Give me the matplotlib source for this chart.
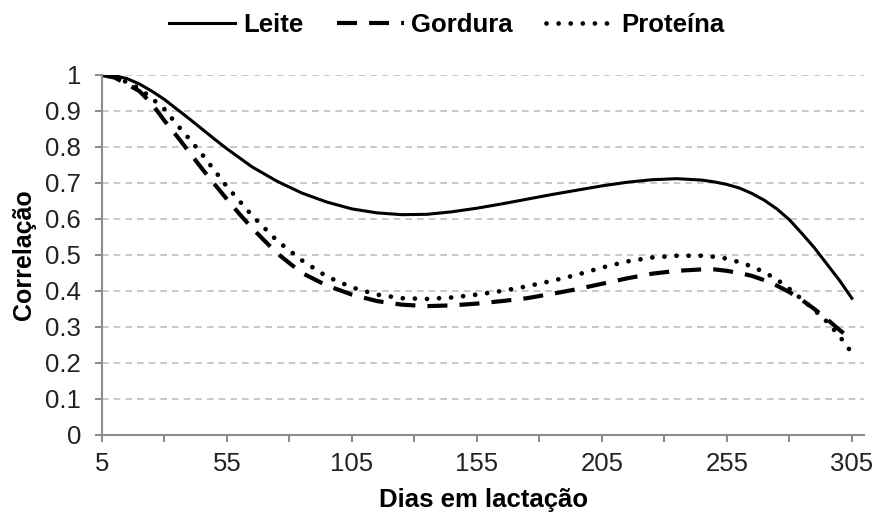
import numpy as np
import matplotlib.pyplot as plt

plt.rcParams['font.family'] = ['Liberation Sans', 'DejaVu Sans']

# dias em lactação
dias = [5, 10, 15, 20, 25, 30, 35, 40, 45, 50, 55, 60, 65,
        75, 85, 95, 105, 115, 125, 135, 145, 155, 165, 175, 185, 195, 205, 215,
        225, 235, 245,
        250, 255, 260, 265, 270, 275, 280, 285, 290, 295, 300, 305]

leite = [1.0, 0.998, 0.99, 0.975, 0.955, 0.932, 0.905, 0.878, 0.85, 0.822, 0.795, 0.77, 0.745,
         0.705, 0.672, 0.647, 0.628, 0.617, 0.612, 0.613, 0.62, 0.63, 0.642, 0.655, 0.668,
         0.68, 0.692, 0.702, 0.709, 0.712, 0.708,
         0.703, 0.696, 0.686, 0.671, 0.652, 0.628, 0.598, 0.56, 0.52, 0.475, 0.43, 0.38]

gordura = [1.0, 0.993, 0.975, 0.955, 0.92, 0.873, 0.83, 0.785, 0.74, 0.697, 0.655, 0.614, 0.575,
           0.505, 0.45, 0.415, 0.39, 0.372, 0.362, 0.358, 0.36, 0.365, 0.372, 0.38, 0.392,
           0.405, 0.42, 0.435, 0.448, 0.456, 0.46,
           0.46, 0.456, 0.45, 0.442, 0.43, 0.415, 0.397, 0.375, 0.35, 0.322, 0.292, 0.265]

proteina = [1.0, 0.995, 0.98, 0.962, 0.935, 0.905, 0.862, 0.822, 0.78, 0.735, 0.69, 0.65, 0.61,
            0.54, 0.485, 0.44, 0.41, 0.39, 0.38, 0.378, 0.382, 0.39, 0.4, 0.413, 0.428,
            0.445, 0.465, 0.482, 0.493, 0.498, 0.498,
            0.495, 0.49, 0.48, 0.468, 0.452, 0.432, 0.406, 0.377, 0.347, 0.315, 0.275, 0.228]

xticks = [5, 55, 105, 155, 205, 255, 305]
xminor = [30, 80, 130, 180, 230, 280]
yticks = [0, 0.1, 0.2, 0.3, 0.4, 0.5, 0.6, 0.7, 0.8, 0.9, 1]
ylabels = ['0', '0.1', '0.2', '0.3', '0.4', '0.5', '0.6', '0.7', '0.8', '0.9', '1']

fig = plt.figure(figsize=(8.82, 5.14), dpi=100)
ax = fig.add_axes([0.1156, 0.1537, 0.8644, 0.7004])

# grade
for y in yticks[1:]:
    ax.axhline(y, color='#c0c0c0', lw=1.2, ls=(0, (4, 3)), zorder=0)

ax.plot(dias, leite, color='black', lw=2.2, label='Leite')
ax.plot(dias, gordura, color='black', lw=3.0, ls=(0, (4.8, 2.9)), label='Gordura')
ax.plot(dias, proteina, color='black', lw=3.4, ls=(0, (0.01, 2.55)),
        dash_capstyle='round', label='Proteína')

ax.set_xlim(5, 310)
ax.set_ylim(0, 1)
ax.set_xticks(xticks)
ax.set_xticks(xminor, minor=True)
ax.set_yticks(yticks)
ax.set_yticklabels(ylabels)

for s in ['top', 'right']:
    ax.spines[s].set_visible(False)
for s in ['left', 'bottom']:
    ax.spines[s].set_color('#8c8c8c')
    ax.spines[s].set_linewidth(1.5)

ax.tick_params(axis='x', which='both', length=5, width=1.5, color='#8c8c8c',
               labelsize=18.5, pad=7, labelcolor='#222222')
ax.tick_params(axis='y', length=5, width=1.5, color='#8c8c8c',
               labelsize=18.5, pad=10, labelcolor='#222222')

ax.set_xlabel('Dias em lactação', fontsize=18.5, fontweight='bold', labelpad=9)
ax.set_ylabel('Correlação', fontsize=18, fontweight='bold', labelpad=7)

fig.legend(loc='center', bbox_to_anchor=(0.506, 0.951), ncol=3, frameon=False,
           prop={'size': 18.5, 'weight': 'bold'}, handlelength=2.6,
           handletextpad=0.3, columnspacing=1.3)

fig.savefig('out.png', dpi=100)
